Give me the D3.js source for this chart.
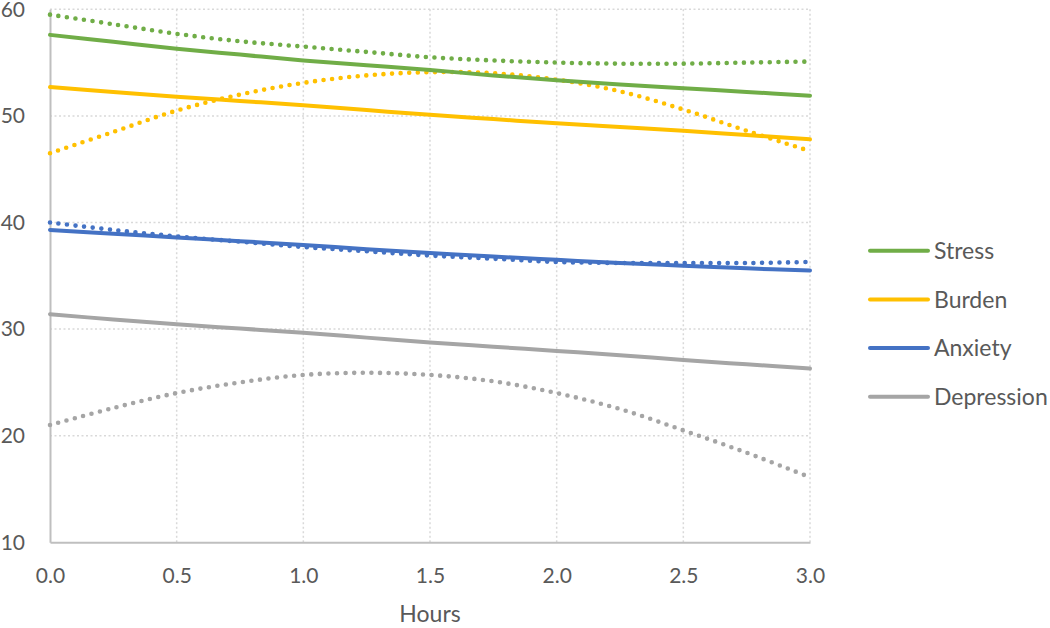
<!DOCTYPE html>
<html>
<head>
<meta charset="utf-8">
<script src="https://cdn.jsdelivr.net/npm/d3@7"></script>
<style>
  body { margin: 0; background: #fff; }
  text { font-family: Lato, "Open Sans", sans-serif; fill: #595959; }
</style>
</head>
<body>
<div id="root"></div>
<script>
"use strict";

const hours = [0, 0.25, 0.5, 0.75, 1, 1.25, 1.5, 1.75, 2, 2.25, 2.5, 2.75, 3];
const seriesNames = ["Stress", "Burden", "Anxiety", "Depression"];
const stressTrend = [57.6, 56.95, 56.3, 55.75, 55.2, 54.75, 54.3, 53.8, 53.35, 52.95, 52.6, 52.25, 51.9];
const stressFit = [59.5, 58.6, 57.7, 57.0, 56.5, 56.0, 55.5, 55.2, 55.0, 54.9, 54.9, 55.0, 55.1];
const burdenTrend = [52.7, 52.25, 51.8, 51.4, 51.0, 50.55, 50.1, 49.7, 49.3, 48.95, 48.6, 48.2, 47.8];
const burdenFit = [46.5, 48.5, 50.5, 52.0, 53.1, 53.8, 54.1, 54.0, 53.4, 52.3, 50.6, 48.6, 46.7];
const anxietyTrend = [39.3, 38.95, 38.6, 38.25, 37.9, 37.5, 37.15, 36.8, 36.5, 36.2, 35.95, 35.7, 35.5];
const anxietyFit = [40.0, 39.3, 38.7, 38.2, 37.7, 37.3, 36.9, 36.6, 36.3, 36.2, 36.2, 36.2, 36.3];
const depressionTrend = [31.4, 30.9, 30.45, 30.05, 29.65, 29.2, 28.75, 28.35, 27.95, 27.55, 27.1, 26.7, 26.3];
const depressionFit = [21.0, 22.6, 24.0, 25.0, 25.7, 25.9, 25.7, 25.1, 24.0, 22.5, 20.5, 18.4, 16.1];
const xTicks = [0, 0.5, 1, 1.5, 2, 2.5, 3];
const yTicks = [10, 20, 30, 40, 50, 60];

const colors = ["#70AD47", "#FFC000", "#4472C4", "#A5A5A5"];
const trends = [stressTrend, burdenTrend, anxietyTrend, depressionTrend];
const fits = [stressFit, burdenFit, anxietyFit, depressionFit];

const width = 1050;
const height = 628;

const x = d3.scaleLinear().domain([0, 3]).range([50, 810]);
const y = d3.scaleLinear().domain([10, 60]).range([542.3, 9.3]);

const svg = d3.select("#root")
  .append("svg")
  .attr("width", width)
  .attr("height", height);

// gridlines
svg.append("g")
  .selectAll("line")
  .data(yTicks.filter((d) => d > 10))
  .join("line")
  .attr("x1", x(0)).attr("x2", x(3))
  .attr("y1", (d) => y(d)).attr("y2", (d) => y(d))
  .attr("stroke", "#D9D9D9")
  .attr("stroke-width", 1.5)
  .attr("stroke-dasharray", "2 2.5");

svg.append("g")
  .selectAll("line")
  .data(xTicks.filter((d) => d > 0))
  .join("line")
  .attr("x1", (d) => x(d)).attr("x2", (d) => x(d))
  .attr("y1", y(10)).attr("y2", y(60))
  .attr("stroke", "#D9D9D9")
  .attr("stroke-width", 1.5)
  .attr("stroke-dasharray", "2 2.5");

// axes
const xAxis = d3.axisBottom(x).tickValues(xTicks).tickFormat(d3.format(".1f")).tickSize(0).tickPadding(26);
svg.append("g")
  .attr("transform", `translate(0, ${y(10)})`)
  .call(xAxis)
  .call((g) => g.select(".domain").attr("stroke", "#BFBFBF").attr("stroke-width", 2))
  .call((g) => g.selectAll("text").style("font-size", "21px").attr("fill", "#595959"));

const yAxis = d3.axisLeft(y).tickValues(yTicks).tickSize(0).tickPadding(25);
svg.append("g")
  .attr("transform", `translate(${x(0)}, 0)`)
  .call(yAxis)
  .call((g) => g.select(".domain").attr("stroke", "#BFBFBF").attr("stroke-width", 2))
  .call((g) => g.selectAll("text").style("font-size", "21px").attr("fill", "#595959"));

svg.append("text")
  .attr("x", 430)
  .attr("y", 622)
  .attr("text-anchor", "middle")
  .style("font-size", "23px")
  .text("Hours");

const line = d3.line()
  .x((d, i) => x(hours[i]))
  .y((d) => y(d))
  .curve(d3.curveCatmullRom);

// dotted polynomial fits
svg.append("g")
  .selectAll("path")
  .data(fits)
  .join("path")
  .attr("d", line)
  .attr("fill", "none")
  .attr("stroke", (d, i) => colors[i])
  .attr("stroke-width", 4.6)
  .attr("stroke-linecap", "round")
  .attr("stroke-dasharray", "0 8.6");

// solid trend lines
svg.append("g")
  .selectAll("path")
  .data(trends)
  .join("path")
  .attr("d", line)
  .attr("fill", "none")
  .attr("stroke", (d, i) => colors[i])
  .attr("stroke-width", 4)
  .attr("stroke-linecap", "round");

// legend
const legend = svg.append("g")
  .selectAll("g")
  .data(seriesNames)
  .join("g")
  .attr("transform", (d, i) => `translate(870, ${250.7 + i * 48.7})`);

legend.append("line")
  .attr("x1", 0).attr("x2", 58)
  .attr("stroke", (d, i) => colors[i])
  .attr("stroke-width", 4)
  .attr("stroke-linecap", "round");

legend.append("text")
  .attr("x", 64)
  .attr("dy", "0.36em")
  .style("font-size", "23px")
  .text((d) => d);
</script>
</body>
</html>
